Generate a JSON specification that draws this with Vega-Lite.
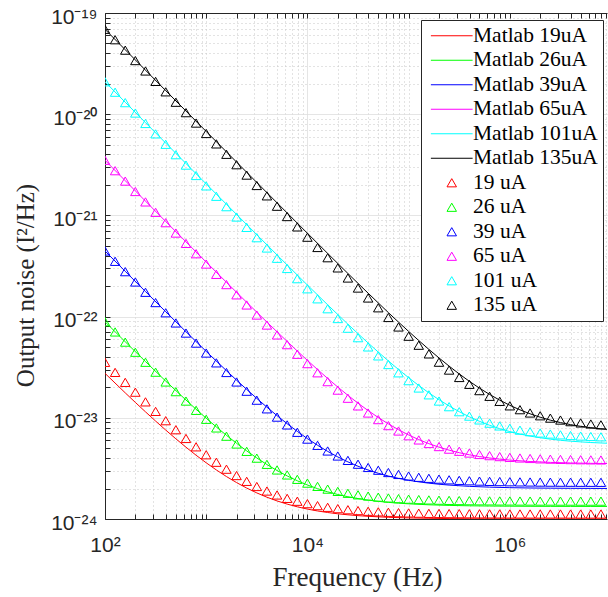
{
  "$schema": "https://vega.github.io/schema/vega-lite/v6.json",
  "width": 502,
  "height": 506,
  "autosize": {"type": "none"},
  "padding": {"left": 105, "top": 13, "right": 1, "bottom": 78},
  "background": "white",
  "config": {
    "view": {"stroke": null},
    "axis": {
      "domainColor": "#262626", "tickColor": "#262626", "labelColor": "#262626", "titleColor": "#262626",
      "labelFont": "Liberation Sans", "labelFontSize": 21,
      "titleFont": "Liberation Serif", "titleFontSize": 27, "titleFontWeight": "normal",
      "tickSize": -5, "domainWidth": 1, "tickWidth": 1, "gridWidth": 1
    }
  },
  "datasets": {
    "mat": [
      {"f":100,"Matlab 19uA":27.5e-24,"Matlab 26uA":89.03e-24,"Matlab 39uA":445e-24,"Matlab 65uA":3503.5e-24,"Matlab 101uA":20905e-24,"Matlab 135uA":69007e-24},
      {"f":158.5,"Matlab 19uA":17.64e-24,"Matlab 26uA":56.41e-24,"Matlab 39uA":280.2e-24,"Matlab 65uA":2202e-24,"Matlab 101uA":13132e-24,"Matlab 135uA":43346e-24},
      {"f":251.2,"Matlab 19uA":11.45e-24,"Matlab 26uA":35.93e-24,"Matlab 39uA":176.8e-24,"Matlab 65uA":1384e-24,"Matlab 101uA":8250e-24,"Matlab 135uA":27228e-24},
      {"f":398.1,"Matlab 19uA":7.564e-24,"Matlab 26uA":23.05e-24,"Matlab 39uA":111.7e-24,"Matlab 65uA":870.5e-24,"Matlab 101uA":5182e-24,"Matlab 135uA":17098e-24},
      {"f":631,"Matlab 19uA":5.123e-24,"Matlab 26uA":14.98e-24,"Matlab 39uA":70.93e-24,"Matlab 65uA":548.1e-24,"Matlab 101uA":3257e-24,"Matlab 135uA":10743e-24},
      {"f":1000,"Matlab 19uA":3.590e-24,"Matlab 26uA":9.900e-24,"Matlab 39uA":45.29e-24,"Matlab 65uA":345.5e-24,"Matlab 101uA":2047e-24,"Matlab 135uA":6750e-24},
      {"f":1585,"Matlab 19uA":2.627e-24,"Matlab 26uA":6.713e-24,"Matlab 39uA":29.19e-24,"Matlab 65uA":218.3e-24,"Matlab 101uA":1288e-24,"Matlab 135uA":4242e-24},
      {"f":2512,"Matlab 19uA":2.022e-24,"Matlab 26uA":4.711e-24,"Matlab 39uA":19.08e-24,"Matlab 65uA":138.4e-24,"Matlab 101uA":811.1e-24,"Matlab 135uA":2667e-24},
      {"f":3981,"Matlab 19uA":1.642e-24,"Matlab 26uA":3.453e-24,"Matlab 39uA":12.73e-24,"Matlab 65uA":88.24e-24,"Matlab 101uA":511.4e-24,"Matlab 135uA":1677e-24},
      {"f":6310,"Matlab 19uA":1.403e-24,"Matlab 26uA":2.664e-24,"Matlab 39uA":8.738e-24,"Matlab 65uA":56.74e-24,"Matlab 101uA":323.3e-24,"Matlab 135uA":1056e-24},
      {"f":10000,"Matlab 19uA":1.253e-24,"Matlab 26uA":2.168e-24,"Matlab 39uA":6.231e-24,"Matlab 65uA":36.93e-24,"Matlab 101uA":205.0e-24,"Matlab 135uA":666.0e-24},
      {"f":15849,"Matlab 19uA":1.159e-24,"Matlab 26uA":1.856e-24,"Matlab 39uA":4.657e-24,"Matlab 65uA":24.49e-24,"Matlab 101uA":130.8e-24,"Matlab 135uA":420.9e-24},
      {"f":25119,"Matlab 19uA":1.100e-24,"Matlab 26uA":1.660e-24,"Matlab 39uA":3.669e-24,"Matlab 65uA":16.68e-24,"Matlab 101uA":84.13e-24,"Matlab 135uA":266.9e-24},
      {"f":39811,"Matlab 19uA":1.063e-24,"Matlab 26uA":1.538e-24,"Matlab 39uA":3.048e-24,"Matlab 65uA":11.78e-24,"Matlab 101uA":54.85e-24,"Matlab 135uA":170.3e-24},
      {"f":63096,"Matlab 19uA":1.039e-24,"Matlab 26uA":1.460e-24,"Matlab 39uA":2.658e-24,"Matlab 65uA":8.701e-24,"Matlab 101uA":36.46e-24,"Matlab 135uA":109.5e-24},
      {"f":100000,"Matlab 19uA":1.025e-24,"Matlab 26uA":1.412e-24,"Matlab 39uA":2.413e-24,"Matlab 65uA":6.767e-24,"Matlab 101uA":24.91e-24,"Matlab 135uA":71.40e-24},
      {"f":158489,"Matlab 19uA":1.016e-24,"Matlab 26uA":1.381e-24,"Matlab 39uA":2.260e-24,"Matlab 65uA":5.551e-24,"Matlab 101uA":17.65e-24,"Matlab 135uA":47.44e-24},
      {"f":251189,"Matlab 19uA":1.010e-24,"Matlab 26uA":1.362e-24,"Matlab 39uA":2.163e-24,"Matlab 65uA":4.788e-24,"Matlab 101uA":13.09e-24,"Matlab 135uA":32.40e-24},
      {"f":398107,"Matlab 19uA":1.006e-24,"Matlab 26uA":1.350e-24,"Matlab 39uA":2.102e-24,"Matlab 65uA":4.309e-24,"Matlab 101uA":10.23e-24,"Matlab 135uA":22.95e-24},
      {"f":630957,"Matlab 19uA":1.004e-24,"Matlab 26uA":1.343e-24,"Matlab 39uA":2.064e-24,"Matlab 65uA":4.008e-24,"Matlab 101uA":8.435e-24,"Matlab 135uA":17.02e-24},
      {"f":1000000,"Matlab 19uA":1.002e-24,"Matlab 26uA":1.338e-24,"Matlab 39uA":2.040e-24,"Matlab 65uA":3.819e-24,"Matlab 101uA":7.306e-24,"Matlab 135uA":13.29e-24},
      {"f":1584893,"Matlab 19uA":1.002e-24,"Matlab 26uA":1.335e-24,"Matlab 39uA":2.025e-24,"Matlab 65uA":3.700e-24,"Matlab 101uA":6.597e-24,"Matlab 135uA":10.95e-24},
      {"f":2511886,"Matlab 19uA":1.001e-24,"Matlab 26uA":1.333e-24,"Matlab 39uA":2.016e-24,"Matlab 65uA":3.626e-24,"Matlab 101uA":6.152e-24,"Matlab 135uA":9.482e-24},
      {"f":3981072,"Matlab 19uA":1.001e-24,"Matlab 26uA":1.332e-24,"Matlab 39uA":2.010e-24,"Matlab 65uA":3.579e-24,"Matlab 101uA":5.872e-24,"Matlab 135uA":8.559e-24},
      {"f":6309573,"Matlab 19uA":1.000e-24,"Matlab 26uA":1.331e-24,"Matlab 39uA":2.006e-24,"Matlab 65uA":3.550e-24,"Matlab 101uA":5.697e-24,"Matlab 135uA":7.979e-24},
      {"f":10000000,"Matlab 19uA":1.000e-24,"Matlab 26uA":1.331e-24,"Matlab 39uA":2.004e-24,"Matlab 65uA":3.531e-24,"Matlab 101uA":5.586e-24,"Matlab 135uA":7.615e-24}
    ],
    "tri": [
      {"f":100,"19 uA":35.32e-24,"26 uA":89.0e-24,"39 uA":445.3e-24,"65 uA":3504e-24,"101 uA":20906e-24,"135 uA":69008e-24},
      {"f":125.9,"19 uA":28.10e-24,"26 uA":70.53e-24,"39 uA":351.8e-24,"65 uA":2765e-24,"101 uA":16494e-24,"135 uA":54442e-24},
      {"f":158.5,"19 uA":22.40e-24,"26 uA":55.95e-24,"39 uA":278.0e-24,"65 uA":2182e-24,"101 uA":13012e-24,"135 uA":42947e-24},
      {"f":199.5,"19 uA":17.91e-24,"26 uA":44.45e-24,"39 uA":219.8e-24,"65 uA":1722e-24,"101 uA":10266e-24,"135 uA":33880e-24},
      {"f":251.2,"19 uA":14.37e-24,"26 uA":35.39e-24,"39 uA":173.9e-24,"65 uA":1359e-24,"101 uA":8101e-24,"135 uA":26732e-24},
      {"f":316.2,"19 uA":11.57e-24,"26 uA":28.23e-24,"39 uA":137.6e-24,"65 uA":1073e-24,"101 uA":6391e-24,"135 uA":21088e-24},
      {"f":398.1,"19 uA":9.362e-24,"26 uA":22.59e-24,"39 uA":109.1e-24,"65 uA":847.3e-24,"101 uA":5043e-24,"135 uA":16637e-24},
      {"f":501.2,"19 uA":7.621e-24,"26 uA":18.13e-24,"39 uA":86.51e-24,"65 uA":669.2e-24,"101 uA":3979e-24,"135 uA":13125e-24},
      {"f":631,"19 uA":6.250e-24,"26 uA":14.63e-24,"39 uA":68.75e-24,"65 uA":528.8e-24,"101 uA":3141e-24,"135 uA":10358e-24},
      {"f":794.3,"19 uA":5.166e-24,"26 uA":11.85e-24,"39 uA":54.71e-24,"65 uA":417.9e-24,"101 uA":2478e-24,"135 uA":8171e-24},
      {"f":1000,"19 uA":4.312e-24,"26 uA":9.666e-24,"39 uA":43.65e-24,"65 uA":330.5e-24,"101 uA":1957e-24,"135 uA":6448e-24},
      {"f":1259,"19 uA":3.638e-24,"26 uA":7.942e-24,"39 uA":34.91e-24,"65 uA":261.5e-24,"101 uA":1545e-24,"135 uA":5088e-24},
      {"f":1585,"19 uA":3.106e-24,"26 uA":6.582e-24,"39 uA":28.03e-24,"65 uA":207.1e-24,"101 uA":1220e-24,"135 uA":4016e-24},
      {"f":1995,"19 uA":2.687e-24,"26 uA":5.508e-24,"39 uA":22.59e-24,"65 uA":164.1e-24,"101 uA":963.7e-24,"135 uA":3169e-24},
      {"f":2512,"19 uA":2.356e-24,"26 uA":4.662e-24,"39 uA":18.31e-24,"65 uA":130.3e-24,"101 uA":761.6e-24,"135 uA":2502e-24},
      {"f":3162,"19 uA":2.095e-24,"26 uA":3.995e-24,"39 uA":14.93e-24,"65 uA":103.6e-24,"101 uA":602.2e-24,"135 uA":1975e-24},
      {"f":3981,"19 uA":1.889e-24,"26 uA":3.468e-24,"39 uA":12.26e-24,"65 uA":82.52e-24,"101 uA":476.3e-24,"135 uA":1560e-24},
      {"f":5012,"19 uA":1.727e-24,"26 uA":3.052e-24,"39 uA":10.16e-24,"65 uA":65.89e-24,"101 uA":377.1e-24,"135 uA":1232e-24},
      {"f":6310,"19 uA":1.599e-24,"26 uA":2.725e-24,"39 uA":8.502e-24,"65 uA":52.8e-24,"101 uA":298.9e-24,"135 uA":973.9e-24},
      {"f":7943,"19 uA":1.498e-24,"26 uA":2.466e-24,"39 uA":7.191e-24,"65 uA":42.44e-24,"101 uA":237.0e-24,"135 uA":769.7e-24},
      {"f":10000,"19 uA":1.418e-24,"26 uA":2.262e-24,"39 uA":6.159e-24,"65 uA":34.29e-24,"101 uA":188.3e-24,"135 uA":608.9e-24},
      {"f":12589,"19 uA":1.355e-24,"26 uA":2.101e-24,"39 uA":5.344e-24,"65 uA":27.85e-24,"101 uA":149.9e-24,"135 uA":482.0e-24},
      {"f":15849,"19 uA":1.305e-24,"26 uA":1.974e-24,"39 uA":4.701e-24,"65 uA":22.77e-24,"101 uA":119.6e-24,"135 uA":381.9e-24},
      {"f":19953,"19 uA":1.266e-24,"26 uA":1.874e-24,"39 uA":4.194e-24,"65 uA":18.77e-24,"101 uA":95.67e-24,"135 uA":302.9e-24},
      {"f":25119,"19 uA":1.235e-24,"26 uA":1.795e-24,"39 uA":3.794e-24,"65 uA":15.61e-24,"101 uA":76.80e-24,"135 uA":240.6e-24},
      {"f":31623,"19 uA":1.211e-24,"26 uA":1.733e-24,"39 uA":3.479e-24,"65 uA":13.11e-24,"101 uA":61.91e-24,"135 uA":191.5e-24},
      {"f":39811,"19 uA":1.192e-24,"26 uA":1.684e-24,"39 uA":3.230e-24,"65 uA":11.15e-24,"101 uA":50.17e-24,"135 uA":152.7e-24},
      {"f":50119,"19 uA":1.177e-24,"26 uA":1.645e-24,"39 uA":3.034e-24,"65 uA":9.596e-24,"101 uA":40.91e-24,"135 uA":122.2e-24},
      {"f":63096,"19 uA":1.165e-24,"26 uA":1.614e-24,"39 uA":2.879e-24,"65 uA":8.371e-24,"101 uA":33.60e-24,"135 uA":98.01e-24},
      {"f":79433,"19 uA":1.155e-24,"26 uA":1.590e-24,"39 uA":2.756e-24,"65 uA":7.405e-24,"101 uA":27.83e-24,"135 uA":78.97e-24},
      {"f":100000,"19 uA":1.148e-24,"26 uA":1.571e-24,"39 uA":2.660e-24,"65 uA":6.645e-24,"101 uA":23.29e-24,"135 uA":63.98e-24},
      {"f":125893,"19 uA":1.142e-24,"26 uA":1.556e-24,"39 uA":2.584e-24,"65 uA":6.044e-24,"101 uA":19.70e-24,"135 uA":52.14e-24},
      {"f":158489,"19 uA":1.137e-24,"26 uA":1.544e-24,"39 uA":2.524e-24,"65 uA":5.570e-24,"101 uA":16.87e-24,"135 uA":42.80e-24},
      {"f":199526,"19 uA":1.134e-24,"26 uA":1.535e-24,"39 uA":2.477e-24,"65 uA":5.197e-24,"101 uA":14.64e-24,"135 uA":35.43e-24},
      {"f":251189,"19 uA":1.131e-24,"26 uA":1.528e-24,"39 uA":2.439e-24,"65 uA":4.902e-24,"101 uA":12.88e-24,"135 uA":29.62e-24},
      {"f":316228,"19 uA":1.129e-24,"26 uA":1.522e-24,"39 uA":2.410e-24,"65 uA":4.669e-24,"101 uA":11.49e-24,"135 uA":25.03e-24},
      {"f":398107,"19 uA":1.127e-24,"26 uA":1.517e-24,"39 uA":2.387e-24,"65 uA":4.486e-24,"101 uA":10.39e-24,"135 uA":21.42e-24},
      {"f":501187,"19 uA":1.125e-24,"26 uA":1.514e-24,"39 uA":2.369e-24,"65 uA":4.341e-24,"101 uA":9.529e-24,"135 uA":18.56e-24},
      {"f":630957,"19 uA":1.124e-24,"26 uA":1.511e-24,"39 uA":2.354e-24,"65 uA":4.227e-24,"101 uA":8.848e-24,"135 uA":16.31e-24},
      {"f":794328,"19 uA":1.123e-24,"26 uA":1.508e-24,"39 uA":2.343e-24,"65 uA":4.137e-24,"101 uA":8.310e-24,"135 uA":14.54e-24},
      {"f":1000000,"19 uA":1.122e-24,"26 uA":1.507e-24,"39 uA":2.334e-24,"65 uA":4.066e-24,"101 uA":7.885e-24,"135 uA":13.13e-24},
      {"f":1258925,"19 uA":1.122e-24,"26 uA":1.505e-24,"39 uA":2.327e-24,"65 uA":4.009e-24,"101 uA":7.551e-24,"135 uA":12.03e-24},
      {"f":1584893,"19 uA":1.121e-24,"26 uA":1.504e-24,"39 uA":2.321e-24,"65 uA":3.965e-24,"101 uA":7.287e-24,"135 uA":11.16e-24},
      {"f":1995262,"19 uA":1.121e-24,"26 uA":1.503e-24,"39 uA":2.316e-24,"65 uA":3.930e-24,"101 uA":7.078e-24,"135 uA":10.47e-24},
      {"f":2511886,"19 uA":1.121e-24,"26 uA":1.503e-24,"39 uA":2.313e-24,"65 uA":3.903e-24,"101 uA":6.914e-24,"135 uA":9.927e-24},
      {"f":3162278,"19 uA":1.121e-24,"26 uA":1.502e-24,"39 uA":2.310e-24,"65 uA":3.881e-24,"101 uA":6.784e-24,"135 uA":9.499e-24},
      {"f":3981072,"19 uA":1.120e-24,"26 uA":1.502e-24,"39 uA":2.308e-24,"65 uA":3.864e-24,"101 uA":6.682e-24,"135 uA":9.161e-24},
      {"f":5011872,"19 uA":1.120e-24,"26 uA":1.501e-24,"39 uA":2.306e-24,"65 uA":3.850e-24,"101 uA":6.601e-24,"135 uA":8.895e-24},
      {"f":6309573,"19 uA":1.120e-24,"26 uA":1.501e-24,"39 uA":2.305e-24,"65 uA":3.840e-24,"101 uA":6.538e-24,"135 uA":8.685e-24},
      {"f":7943282,"19 uA":1.120e-24,"26 uA":1.501e-24,"39 uA":2.304e-24,"65 uA":3.831e-24,"101 uA":6.488e-24,"135 uA":8.519e-24}
    ]
  },
  "resolve": {"axis": {"x": "independent"}},
  "layer": [
    {
      "data": {"name": "mat"},
      "transform": [{"fold": ["Matlab 19uA","Matlab 26uA","Matlab 39uA","Matlab 65uA","Matlab 101uA","Matlab 135uA"], "as": ["s", "v"]}],
      "mark": {"type": "line", "clip": true, "strokeWidth": 1, "interpolate": "monotone"},
      "encoding": {
        "x": {
          "field": "f", "type": "quantitative",
          "scale": {"type": "log", "domain": [100, 9120108], "nice": false},
          "axis": {
            "orient": "bottom",
            "values": [100,200,300,400,500,600,700,800,900,1000,2000,3000,4000,5000,6000,7000,8000,9000,10000,20000,30000,40000,50000,60000,70000,80000,90000,100000,200000,300000,400000,500000,600000,700000,800000,900000,1000000,2000000,3000000,4000000,5000000,6000000,7000000,8000000,9000000],
            "labelExpr": "abs(log(datum.value)/LN10 - round(log(datum.value)/LN10)) > 0.01 ? '' : ['10²','','10⁴','','10⁶',''][round(log(datum.value)/LN10) - 2]",
            "labelOverlap": false, "labelFlush": false, "labelBound": false,
            "labelPadding": 20,
            "grid": true,
            "gridColor": {"condition": {"test": "abs(log(datum.value)/LN10 - round(log(datum.value)/LN10)) < 0.01 && round(log(datum.value)/LN10) % 2 == 0", "value": "#dcdcdc"}, "value": "#c6c6c6"},
            "gridDash": {"condition": {"test": "abs(log(datum.value)/LN10 - round(log(datum.value)/LN10)) < 0.01 && round(log(datum.value)/LN10) % 2 == 0", "value": [1, 0]}, "value": [1, 3]},
            "title": "Frequency (Hz)",
            "titleX": 252, "titleY": 66, "titleBaseline": "alphabetic", "titleAlign": "center"
          }
        },
        "y": {
          "field": "v", "type": "quantitative",
          "scale": {"type": "log", "domain": [1e-24, 1e-19], "nice": false},
          "axis": {
            "values": [1e-24,2e-24,3e-24,4e-24,5e-24,6e-24,7e-24,8e-24,9e-24,1e-23,2e-23,3e-23,4e-23,5e-23,6e-23,7e-23,8e-23,9e-23,1e-22,2e-22,3e-22,4e-22,5e-22,6e-22,7e-22,8e-22,9e-22,1e-21,2e-21,3e-21,4e-21,5e-21,6e-21,7e-21,8e-21,9e-21,1e-20,2e-20,3e-20,4e-20,5e-20,6e-20,7e-20,8e-20,9e-20,1e-19],
            "labelExpr": "abs(log(datum.value)/LN10 - round(log(datum.value)/LN10)) > 0.01 ? '' : ['10⁻²⁴','10⁻²³','10⁻²²','10⁻²¹','10⁻²⁰','10⁻¹⁹'][round(log(datum.value)/LN10) + 24]",
            "labelOverlap": false, "labelFlush": false, "labelBound": false,
            "labelPadding": 13, "labelOffset": 4, "labelBaseline": "middle",
            "grid": true,
            "gridColor": {"condition": {"test": "abs(log(datum.value)/LN10 - round(log(datum.value)/LN10)) < 0.01", "value": "#dcdcdc"}, "value": "#c6c6c6"},
            "gridDash": {"condition": {"test": "abs(log(datum.value)/LN10 - round(log(datum.value)/LN10)) < 0.01", "value": [1, 0]}, "value": [1, 3]},
            "title": "Output noise (I²/Hz)",
            "titleFontSize": 25,
            "titleX": -80, "titleY": 272, "titleAngle": 270, "titleBaseline": "middle", "titleAlign": "center"
          }
        },
        "color": {
          "field": "s", "type": "nominal",
          "scale": {
            "domain": ["Matlab 19uA","Matlab 26uA","Matlab 39uA","Matlab 65uA","Matlab 101uA","Matlab 135uA","19 uA","26 uA","39 uA","65 uA","101 uA","135 uA"],
            "range": ["#ff0000","#00ff00","#0000ff","#ff00ff","#00ffff","#000000","#ff0000","#00ff00","#0000ff","#ff00ff","#00ffff","#000000"]
          },
          "legend": {
            "title": null, "orient": "none", "legendX": 316, "legendY": 7,
            "strokeColor": "#262626", "fillColor": "white", "padding": 5,
            "labelFont": "Liberation Serif", "labelFontSize": 21.5, "labelColor": "black", "labelLimit": 300,
            "symbolSize": 90, "symbolStrokeWidth": 1, "rowPadding": 1.5, "symbolOffset": 15, "labelOffset": 10.5
          }
        }
      }
    },
    {
      "data": {"name": "tri"},
      "transform": [{"fold": ["19 uA","26 uA","39 uA","65 uA","101 uA","135 uA"], "as": ["s", "v"]}],
      "mark": {"type": "point", "shape": "triangle-up", "filled": false, "size": 90, "strokeWidth": 1, "clip": true, "opacity": 1},
      "encoding": {
        "x": {
          "field": "f", "type": "quantitative",
          "axis": {
            "orient": "top",
            "values": [100,200,300,400,500,600,700,800,900,1000,2000,3000,4000,5000,6000,7000,8000,9000,10000,20000,30000,40000,50000,60000,70000,80000,90000,100000,200000,300000,400000,500000,600000,700000,800000,900000,1000000,2000000,3000000,4000000,5000000,6000000,7000000,8000000,9000000],
            "labels": false, "grid": false, "title": null, "domain": true, "ticks": true
          }
        },
        "y": {"field": "v", "type": "quantitative"},
        "color": {"field": "s", "type": "nominal",
          "legend": {
            "title": null, "orient": "none", "legendX": 316, "legendY": 7,
            "strokeColor": "#262626", "fillColor": "white", "padding": 5,
            "labelFont": "Liberation Serif", "labelFontSize": 21.5, "labelColor": "black", "labelLimit": 300,
            "symbolSize": 90, "symbolStrokeWidth": 1, "rowPadding": 1.5, "symbolOffset": 15, "labelOffset": 10.5
          }
        },
        "shape": {
          "field": "s", "type": "nominal",
          "scale": {
            "domain": ["Matlab 19uA","Matlab 26uA","Matlab 39uA","Matlab 65uA","Matlab 101uA","Matlab 135uA","19 uA","26 uA","39 uA","65 uA","101 uA","135 uA"],
            "range": ["M-4.4,0H4.4","M-4.4,0H4.4","M-4.4,0H4.4","M-4.4,0H4.4","M-4.4,0H4.4","M-4.4,0H4.4","triangle-up","triangle-up","triangle-up","triangle-up","triangle-up","triangle-up"]
          },
          "legend": {
            "title": null, "orient": "none", "legendX": 316, "legendY": 7,
            "strokeColor": "#262626", "fillColor": "white", "padding": 5,
            "labelFont": "Liberation Serif", "labelFontSize": 21.5, "labelColor": "black", "labelLimit": 300,
            "symbolSize": 90, "symbolStrokeWidth": 1, "rowPadding": 1.5, "symbolOffset": 15, "labelOffset": 10.5
          }
        }
      }
    }
  ]
}
